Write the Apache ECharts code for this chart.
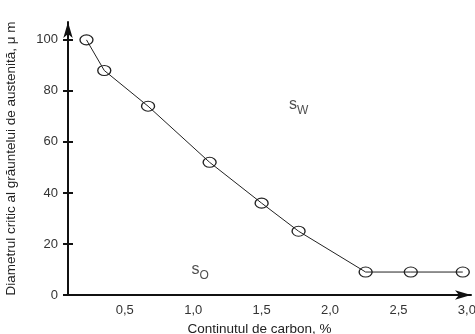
<!DOCTYPE html>
<html>
  <head>
    <meta charset="utf-8">
    <title></title>
    <script src="https://cdn.jsdelivr.net/npm/echarts@6/dist/echarts.min.js"></script>
    <style media="screen">
    html,body{
      height:100%;
      width:100%;
      margin:0px;
      background:#fff;
    }
    #chartDiv{
      width:475px;
      height:334px;
    }
    </style>
  </head>
  <body>
    <div id="chartDiv"></div>
    <script type="text/javascript">
      // continutul de carbon (%) si diametrul critic (um)
      var carbon = [0.22, 0.35, 0.67, 1.12, 1.5, 1.77, 2.26, 2.59, 2.97];
      var diametru = [100, 88, 74, 52, 36, 25, 9, 9, 9];
      var xTicks = [0.5, 1.0, 1.5, 2.0, 2.5, 3.0];
      var yTicks = [0, 20, 40, 60, 80, 100];
      // zone: text, subscript, carbon, diametru
      var zoneText = ['s', 's'];
      var zoneSub = ['W', 'O'];
      var zoneX = [1.77, 1.05];
      var zoneY = [74, 9];

      var font = 'Liberation Sans';
      var ink = '#111';

      var option = {
        animation: false,
        grid: {
          left: 68,
          right: 4,
          top: 22,
          bottom: 39,
          outerBoundsMode: 'none'
        },
        xAxis: {
          type: 'value',
          min: 0.085,
          max: 3.03,
          name: 'Conținutul de carbon, %',
          nameLocation: 'middle',
          nameGap: 21,
          nameTextStyle: {
            fontFamily: font,
            fontSize: 13.5,
            color: '#222',
            padding: [0, 20, 0, 0]
          },
          axisLine: {
            lineStyle: {color: ink, width: 2},
            symbol: ['none', 'arrow'],
            symbolSize: [7, 16]
          },
          axisTick: {show: false},
          splitLine: {show: false},
          axisLabel: {
            customValues: xTicks,
            margin: 9,
            fontFamily: font,
            fontSize: 13,
            color: '#333',
            formatter: function(v){
              return v.toFixed(1).replace('.', ',');
            }
          }
        },
        yAxis: [
          {
            type: 'value',
            min: 0,
            max: 107,
            name: 'Diametrul critic al grăuntelui de austenită, μ m',
            nameLocation: 'middle',
            nameGap: 50,
            nameTextStyle: {
              fontFamily: font,
              fontSize: 13.5,
              color: '#222'
            },
            axisLine: {
              lineStyle: {color: ink, width: 2},
              symbol: ['none', 'arrow'],
              symbolSize: [7, 16]
            },
            axisTick: {
              customValues: yTicks,
              length: 5,
              lineStyle: {color: ink, width: 2}
            },
            splitLine: {show: false},
            axisLabel: {
              customValues: yTicks,
              margin: 10,
              fontFamily: font,
              fontSize: 13,
              color: '#333'
            }
          },
          {
            type: 'value',
            position: 'left',
            min: 0,
            max: 107,
            axisLine: {show: false},
            axisLabel: {show: false},
            splitLine: {show: false},
            axisTick: {
              inside: true,
              customValues: yTicks,
              length: 5,
              lineStyle: {color: ink, width: 2}
            }
          }
        ],
        series: [
          {
            type: 'line',
            data: carbon.map(function(c, i){ return [c, diametru[i]]; }),
            symbol: 'circle',
            symbolSize: [13, 10],
            lineStyle: {color: '#222', width: 1},
            itemStyle: {
              color: 'rgba(255,255,255,0)',
              borderColor: '#222',
              borderWidth: 1.2
            }
          },
          {
            type: 'scatter',
            silent: true,
            symbol: 'circle',
            symbolSize: 2,
            itemStyle: {color: 'rgba(255,255,255,0)'},
            data: zoneX.map(function(x, i){ return [x, zoneY[i], i]; }),
            label: {
              show: true,
              position: 'inside',
              formatter: function(p){
                var i = p.data[2];
                return '{a|' + zoneText[i] + '}{b|' + zoneSub[i] + '}';
              },
              rich: {
                a: {fontFamily: font, fontSize: 16, color: '#222', verticalAlign: 'top', lineHeight: 20},
                b: {fontFamily: font, fontSize: 12, color: '#222', verticalAlign: 'bottom', lineHeight: 20}
              }
            }
          }
        ]
      };

      var chart = echarts.init(document.getElementById('chartDiv'));
      chart.setOption(option);
    </script>
  </body>
</html>
